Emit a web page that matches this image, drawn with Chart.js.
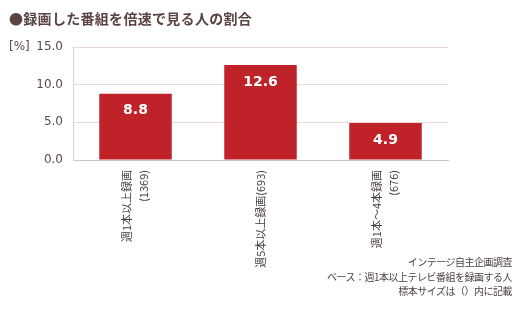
<!DOCTYPE html>
<html lang="ja">
<head>
<meta charset="utf-8">
<script src="https://cdn.jsdelivr.net/npm/chart.js@4"></script>
<style>
    body { margin: 0; background: #fff; }
    #wrap { position: relative; width: 529px; height: 327px; }
    #titulo {
        position: absolute; left: 9px; top: 8px;
        font: bold 14px "Noto Sans CJK JP", sans-serif; color: #5b4343;
        letter-spacing: 0.3px;
    }
    #nota {
        position: absolute; right: 17px; top: 255px; text-align: right;
        font: 10px "Noto Sans CJK JP", sans-serif; color: #4a3f3f; line-height: 14.5px;
        letter-spacing: -0.5px;
    }
</style>
</head>
<body>
<div id="wrap">
    <canvas id="grafico" width="529" height="327"></canvas>
    <div id="titulo">●録画した番組を倍速で見る人の割合</div>
    <div id="nota">インテージ自主企画調査<br>ベース：週1本以上テレビ番組を録画する人<br>標本サイズは（）内に記載</div>
</div>
<script>
const categorias = [
    ["週1本以上録画", "(1369)"],
    "週5本以上録画(693)",
    ["週1本～4本録画", "(676)"],
];
const porcentajes = [8.8, 12.6, 4.9];
const ticksY = [0, 5, 10, 15];

// etiquetas de dos lineas centradas en la barra
const centrarLineas = {
    id: "centrarLineas",
    beforeDraw(chart) {
        const x = chart.scales.x;
        x.getLabelItems().forEach(function(item) {
            if (Array.isArray(item.label) && !item._movido) {
                item.options.translation[0] -= 9;
                item._movido = true;
            }
        });
    }
};

// valores dentro de la barra + unidad del eje
const etiquetas = {
    id: "etiquetas",
    afterDatasetsDraw(chart) {
        const ctx = chart.ctx;
        const meta = chart.getDatasetMeta(0);
        ctx.save();
        ctx.fillStyle = "#ffffff";
        ctx.font = "bold 14px 'DejaVu Sans', sans-serif";
        ctx.textAlign = "center";
        ctx.textBaseline = "middle";
        meta.data.forEach(function(bar, i) {
            ctx.fillText(porcentajes[i].toFixed(1), bar.x, bar.y + 17);
        });
        ctx.fillStyle = "#5b4a4a";
        ctx.font = "12px 'DejaVu Sans', sans-serif";
        ctx.textAlign = "left";
        ctx.fillText("[%]", 9, chart.scales.y.top);
        ctx.restore();
    }
};

document.addEventListener("DOMContentLoaded", function() {
    const ctx = document.getElementById("grafico").getContext("2d");
    new Chart(ctx, {
        type: "bar",
        data: {
            labels: categorias,
            datasets: [{
                data: porcentajes,
                backgroundColor: "#c0222a",
                barPercentage: 0.58,
                categoryPercentage: 1,
            }],
        },
        options: {
            responsive: false,
            animation: false,
            layout: { padding: { top: 47, right: 81, left: 0, bottom: 0 } },
            plugins: { legend: { display: false }, tooltip: { enabled: false } },
            scales: {
                x: {
                    grid: { display: false, drawTicks: false },
                    border: { color: "#c8c8c8", width: 1 },
                    ticks: {
                        minRotation: 90,
                        maxRotation: 90,
                        padding: 10,
                        color: "#4a3f3f",
                        font: { family: "'Noto Sans CJK JP'", size: 11, lineHeight: 1.6 },
                    },
                    afterFit(scale) { scale.height = 167; },
                },
                y: {
                    min: 0,
                    max: 15,
                    afterBuildTicks(scale) {
                        scale.ticks = ticksY.map(v => ({ value: v }));
                    },
                    grid: {
                        drawTicks: false,
                        color: (c) => c.tick.value === 0 ? "#c8c8c8" : "#e8d8d6",
                    },
                    border: { color: "#d8d2d2" },
                    ticks: {
                        padding: 10,
                        color: "#5b4a4a",
                        font: { family: "'DejaVu Sans'", size: 12 },
                        callback: (v) => v.toFixed(1),
                    },
                    afterFit(scale) { scale.width = 73; },
                },
            },
        },
        plugins: [centrarLineas, etiquetas],
    });
});
</script>
</body>
</html>
